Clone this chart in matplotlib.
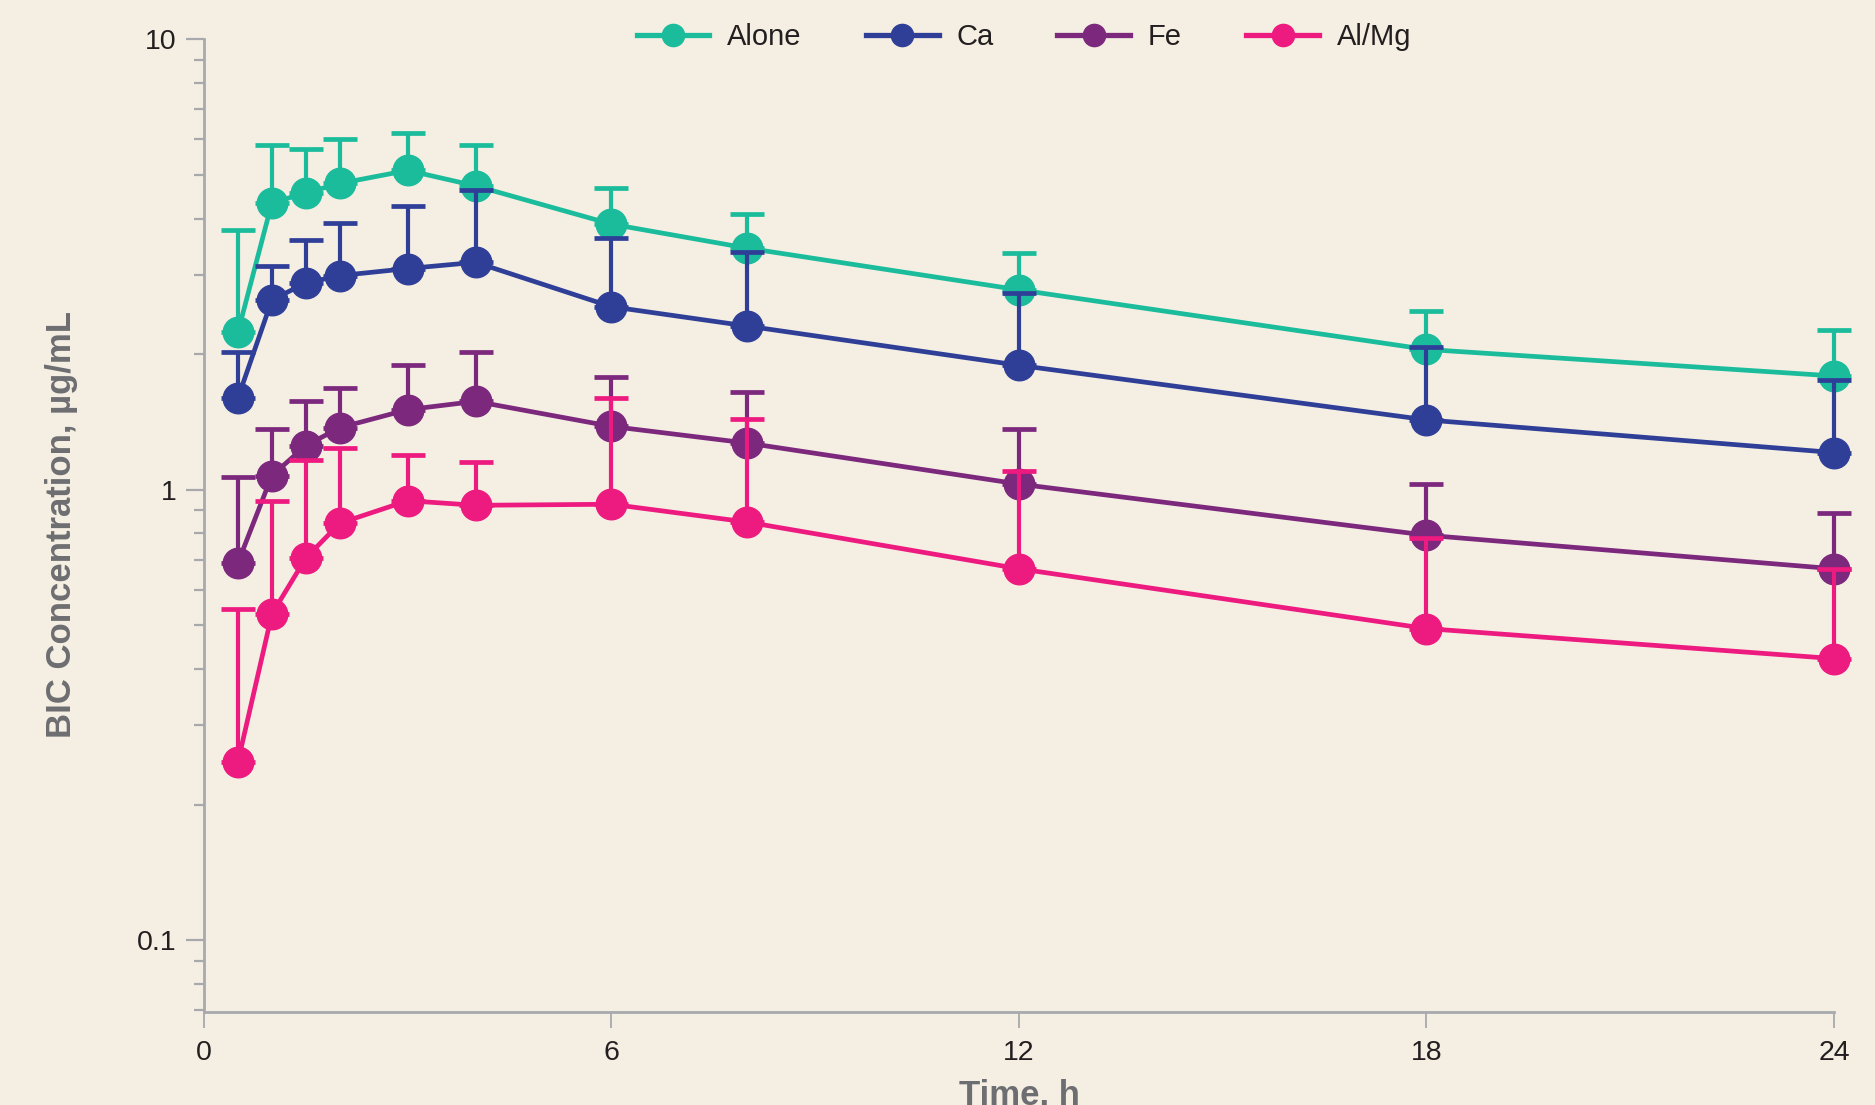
import numpy as np
import matplotlib
matplotlib.use("Agg")
import matplotlib.pyplot as plt
from matplotlib.lines import Line2D
from matplotlib import transforms

plt.rcParams['font.family'] = ['Liberation Sans', 'DejaVu Sans']

# time points (h)
time_h = [0.5, 1, 1.5, 2, 3, 4, 6, 8, 12, 18, 24]

# mean BIC concentration, ug/mL
alone = [2.24, 4.34, 4.56, 4.79, 5.12, 4.73, 3.89, 3.44, 2.78, 2.05, 1.79]
ca = [1.60, 2.64, 2.88, 2.99, 3.10, 3.20, 2.55, 2.31, 1.89, 1.43, 1.21]
fe = [0.689, 1.076, 1.254, 1.374, 1.507, 1.572, 1.383, 1.27, 1.03, 0.793, 0.668]
almg = [0.249, 0.53, 0.706, 0.843, 0.946, 0.924, 0.929, 0.848, 0.668, 0.492, 0.422]

# upper end of the error bars (mean + SD)
alone_hi = [3.77, 5.82, 5.71, 6.0, 6.19, 5.82, 4.68, 4.10, 3.36, 2.49, 2.26]
ca_hi = [2.02, 3.14, 3.59, 3.91, 4.26, 4.64, 3.62, 3.38, 2.74, 2.08, 1.75]
fe_hi = [1.07, 1.366, 1.572, 1.68, 1.89, 2.02, 1.78, 1.65, 1.366, 1.03, 0.888]
almg_hi = [0.543, 0.946, 1.165, 1.239, 1.194, 1.151, 1.60, 1.44, 1.10, 0.781, 0.666]

labels = ['Alone', 'Ca', 'Fe', 'Al/Mg']
colors = ['#1abc9c', '#2f3f98', '#7b287d', '#ed1a7f']
xticks = [0, 6, 12, 18, 24]
yticks = [0.1, 1, 10]
ytick_labels = ['0.1', '1', '10']

bg = '#f5eee2'
axis_gray = '#a7a9ac'
text_dark = '#231f20'
label_gray = '#6d6e71'

fig = plt.figure(figsize=(18.75, 11.05), dpi=100, facecolor=bg)
ax = fig.add_axes([0.1088, 0.0842, 0.9781 - 0.1088, 0.9643 - 0.0842])
ax.set_facecolor(bg)

series = [(alone, alone_hi), (ca, ca_hi), (fe, fe_hi), (almg, almg_hi)]
for i, (mean, hi) in enumerate(series):
    mean = np.array(mean)
    err = np.array(hi) - mean
    ax.errorbar(time_h, mean, yerr=[np.zeros_like(err), err], color=colors[i],
                lw=3.4, marker='o', markersize=22, elinewidth=3.0,
                capsize=12, capthick=3.4, clip_on=False, zorder=3 + i)

ax.set_yscale('log')
ax.set_xlim(0, 24)
ax.set_ylim(0.0693, 10)

ax.set_xticks(xticks)
ax.set_xticklabels([str(t) for t in xticks])
ax.yaxis.set_major_locator(matplotlib.ticker.FixedLocator(yticks))
ax.yaxis.set_major_formatter(matplotlib.ticker.FixedFormatter(ytick_labels))
ax.yaxis.set_minor_locator(matplotlib.ticker.LogLocator(base=10, subs=np.arange(2, 10)))
ax.yaxis.set_minor_formatter(matplotlib.ticker.NullFormatter())

for s in ['top', 'right']:
    ax.spines[s].set_visible(False)
for s in ['left', 'bottom']:
    ax.spines[s].set_color(axis_gray)
    ax.spines[s].set_linewidth(2)

ax.tick_params(axis='x', which='major', length=11.5, width=1.3, color=axis_gray,
               labelsize=20.5, labelcolor=text_dark, pad=9)
ax.tick_params(axis='y', which='major', length=13, width=1.6, color=axis_gray,
               labelsize=20.5, labelcolor=text_dark, pad=7)
ax.tick_params(axis='y', which='minor', length=7.5, width=1.6, color=axis_gray)

fig.text(62 / 1875, 1 - 525 / 1105, 'BIC Concentration, µg/mL', rotation=90,
         ha='center', va='center', fontsize=25, fontweight='bold', color=label_gray)
trans = transforms.blended_transform_factory(ax.transData, fig.transFigure)
ax.text(12, 0.0, 'Time, h', transform=trans, ha='center', va='baseline',
        fontsize=25, fontweight='bold', color=label_gray)

handles = [Line2D([], [], color=c, lw=3.8, marker='o', markersize=16) for c in colors]
fig.legend(handles, labels, loc='center', bbox_to_anchor=(0.546, 0.9665), ncol=4,
           frameon=False, fontsize=21, handlelength=2.5, handletextpad=0.6,
           columnspacing=2.2, labelcolor=text_dark)

fig.savefig('out.png', dpi=100, facecolor=bg)
